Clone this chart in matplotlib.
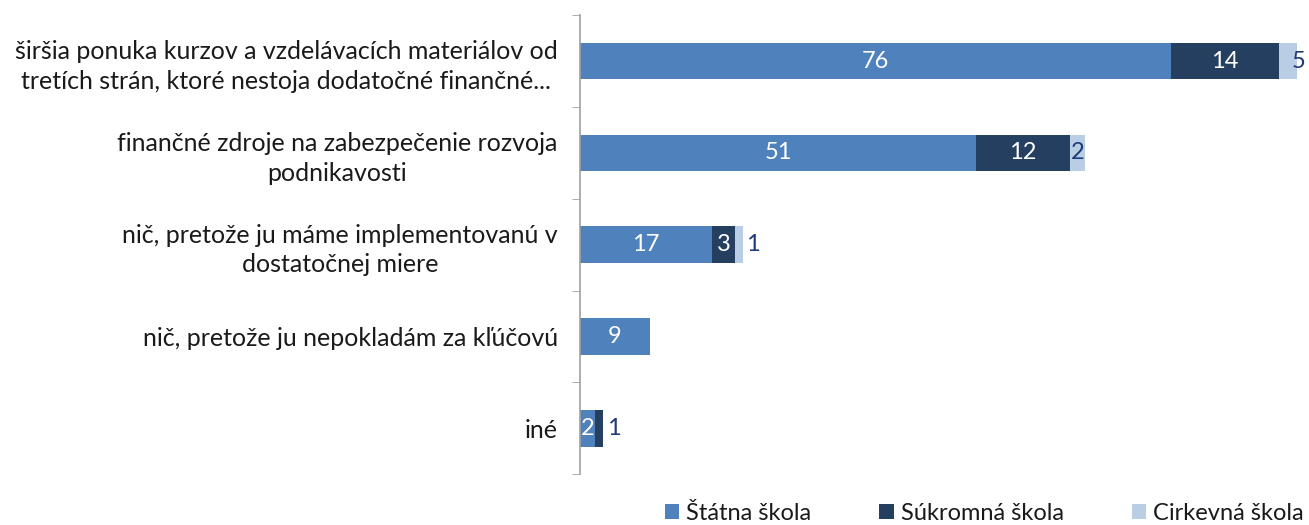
import numpy as np
import matplotlib.pyplot as plt

categories = [
    "širšia ponuka kurzov a vzdelávacích materiálov od\ntretích strán, ktoré nestoja dodatočné finančné...",
    "finančné zdroje na zabezpečenie rozvoja\npodnikavosti",
    "nič, pretože ju máme implementovanú v\ndostatočnej miere",
    "nič, pretože ju nepokladám za kľúčovú",
    "iné",
]
statna = [76, 51, 17, 9, 2]
sukromna = [14, 12, 3, 0, 1]
cirkevna = [5, 2, 1, 0, 0]
series_names = ["Štátna škola", "Súkromná škola", "Cirkevná škola"]

colors = ["#4F81BD", "#243F60", "#B9CDE5"]
dark_label = "#1F3A78"
lab_fs = 17

plt.rcParams['font.family'] = ['Lato', 'DejaVu Sans']

fig = plt.figure(figsize=(13.09, 5.25), dpi=100)
ax = fig.add_axes([0.443, 0.097, 0.548, 0.874])

y = np.arange(len(categories))
left = np.zeros(len(categories))
bar_h = 0.4
for vals, name, col in zip([statna, sukromna, cirkevna], series_names, colors):
    vals = np.array(vals, dtype=float)
    ax.barh(y, vals, left=left, height=bar_h, color=col, label=name)
    for i, v in enumerate(vals):
        if v == 0:
            continue
        center = left[i] + v / 2
        if col == colors[2]:
            # light segment: dark text, inside if there is room, else outside
            if v >= 2:
                ax.text(center, y[i], f"{int(v)}", ha='center', va='center',
                        color=dark_label, fontsize=lab_fs)
            else:
                ax.text(left[i] + v + 0.4, y[i], f"{int(v)}", ha='left', va='center',
                        color=dark_label, fontsize=lab_fs)
        elif col == colors[1] and v < 2:
            ax.text(left[i] + v + 0.5, y[i], f"{int(v)}", ha='left', va='center',
                    color=dark_label, fontsize=lab_fs)
        else:
            ax.text(center, y[i], f"{int(v)}", ha='center', va='center',
                    color='white', fontsize=lab_fs)
    left += vals

ax.set_xlim(0, 92.3)
ax.set_ylim(len(categories) - 0.5, -0.5)
ax.set_xticks([])
ax.set_yticks(y)
ax.set_yticklabels(categories, fontsize=18, color='#1a1a1a', multialignment='center',
                   linespacing=1.35)
ax.tick_params(axis='y', which='major', length=0, pad=16)
ax.set_yticks(np.arange(-0.5, len(categories)), minor=True)
ax.tick_params(axis='y', which='minor', length=6, color='#A0A0A0', direction='out')
for s in ['top', 'right', 'bottom']:
    ax.spines[s].set_visible(False)
ax.spines['left'].set_color('#A0A0A0')
ax.spines['left'].set_linewidth(1.2)

fig.legend(loc='center', bbox_to_anchor=(0.752, 0.022), ncol=3, frameon=False,
           fontsize=17, handlelength=0.6, handleheight=0.6, handletextpad=0.3,
           columnspacing=2.9, labelcolor='#1a1a1a')

fig.savefig("out.png", dpi=100)
